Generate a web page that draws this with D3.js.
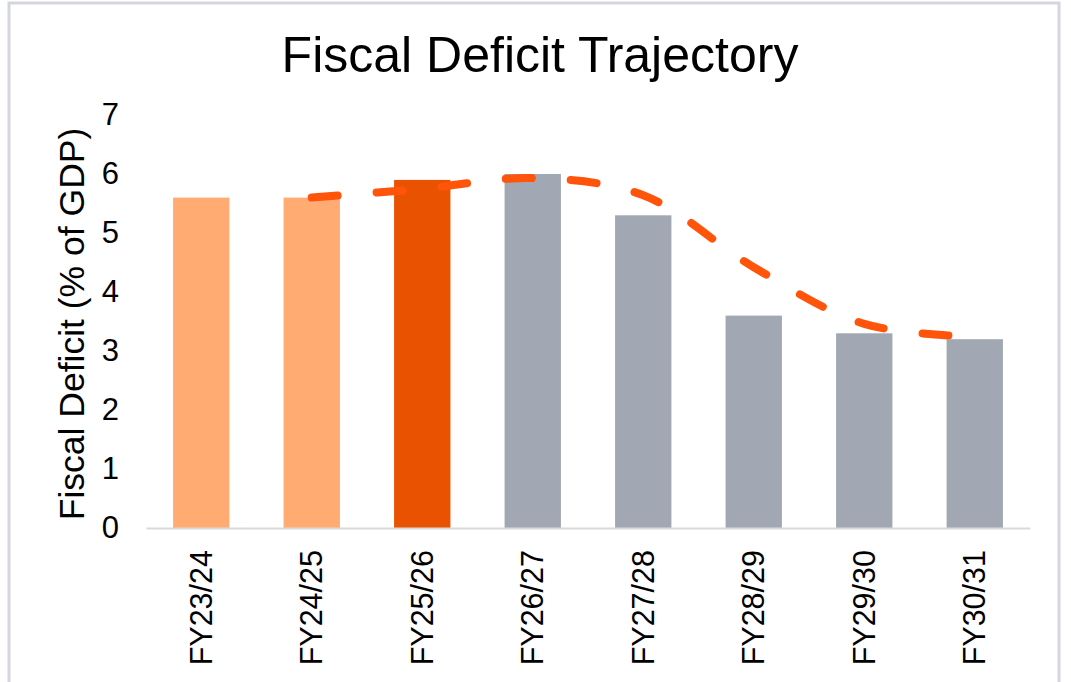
<!DOCTYPE html>
<html>
  <head>
    <meta charset="utf-8" />
    <title>Fiscal Deficit Trajectory</title>
    <style type="text/css">
      html, body {
        margin: 0;
        padding: 0;
        background: #fff;
      }
      svg text {
        font-family: "Liberation Sans", Arial, sans-serif;
        fill: #000;
      }
    </style>
  </head>
  <body>
    <svg id="chart" width="1071" height="682"></svg>

    <script type="text/javascript" src="https://cdn.jsdelivr.net/npm/d3@7/dist/d3.min.js"></script>
    <script type="text/javascript">

    // data
    var years = ['FY23/24', 'FY24/25', 'FY25/26', 'FY26/27', 'FY27/28', 'FY28/29', 'FY29/30', 'FY30/31'];
    var deficit = [5.6, 5.6, 5.9, 6.0, 5.3, 3.6, 3.3, 3.2];
    var barKind = ['past', 'past', 'current', 'plan', 'plan', 'plan', 'plan', 'plan'];
    var pathYears = ['FY24/25', 'FY25/26', 'FY26/27', 'FY27/28', 'FY28/29', 'FY29/30', 'FY30/31'];
    var pathValues = [5.6, 5.75, 5.93, 5.64, 4.42, 3.46, 3.24];
    var yTicks = [0, 1, 2, 3, 4, 5, 6, 7];

    var colors = { past: '#ffab72', current: '#e85200', plan: '#a2a8b3' };

    var svg = d3.select('#chart');

    // outer frame
    svg.append('rect')
      .attr('x', 9)
      .attr('y', 3)
      .attr('width', 1050)
      .attr('height', 700)
      .attr('fill', '#fff')
      .attr('stroke', '#d3d7dd')
      .attr('stroke-width', 3);

    var x = d3.scaleBand()
      .domain(years)
      .range([146, 1030])
      .paddingInner(0.49)
      .paddingOuter(0.245);

    var y = d3.scaleLinear()
      .domain([0, 7])
      .range([528, 115]);

    svg.append('text')
      .attr('x', 540)
      .attr('y', 72)
      .attr('text-anchor', 'middle')
      .style('font-size', '50px')
      .text('Fiscal Deficit Trajectory');

    // y axis (labels only)
    var yAxis = svg.append('g')
      .attr('transform', 'translate(146,0)')
      .call(d3.axisLeft(y).tickValues(yTicks).tickFormat(d3.format('d')).tickSize(0).tickPadding(27));
    yAxis.select('.domain').remove();
    yAxis.selectAll('text')
      .style('font-size', '31px')
      .style('font-family', '"Liberation Sans", Arial, sans-serif')
      .attr('fill', '#000');

    svg.append('text')
      .attr('transform', 'translate(84,324) rotate(-90)')
      .attr('text-anchor', 'middle')
      .style('font-size', '35.5px')
      .text('Fiscal Deficit (% of GDP)');

    // bars
    svg.selectAll('.bar')
      .data(years)
      .enter()
      .append('rect')
        .attr('class', 'bar')
        .attr('x', function(d) { return x(d); })
        .attr('y', function(d, i) { return y(deficit[i]); })
        .attr('width', x.bandwidth())
        .attr('height', function(d, i) { return y(0) - y(deficit[i]); })
        .attr('fill', function(d, i) { return colors[barKind[i]]; });

    // x axis
    var xAxis = svg.append('g')
      .attr('transform', 'translate(0,528)')
      .call(d3.axisBottom(x).tickSize(0).tickPadding(0));
    xAxis.select('.domain')
      .attr('stroke', '#d9d9d9')
      .attr('stroke-width', 2);
    xAxis.selectAll('text')
      .style('font-size', '30.5px')
      .style('font-family', '"Liberation Sans", Arial, sans-serif')
      .attr('fill', '#000')
      .attr('text-anchor', 'end')
      .attr('transform', 'rotate(-90)')
      .attr('x', -22)
      .attr('y', 0)
      .attr('dy', '0.35em');

    // dashed trajectory
    var line = d3.line()
      .x(function(d, i) { return x(pathYears[i]) + x.bandwidth() / 2; })
      .y(function(d) { return y(d); })
      .curve(d3.curveCatmullRom.alpha(0.5));

    svg.append('path')
      .datum(pathValues)
      .attr('d', line)
      .attr('fill', 'none')
      .attr('stroke', '#ff540a')
      .attr('stroke-width', 8)
      .attr('stroke-linecap', 'round')
      .attr('stroke-dasharray', '26,39');

    </script>
  </body>
</html>
